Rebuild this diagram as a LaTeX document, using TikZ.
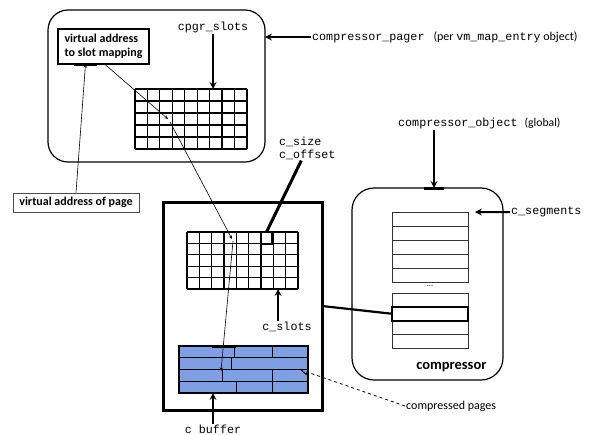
\documentclass[tikz,border=0pt]{standalone}
\usepackage{fontspec}
\setmainfont{Carlito}
\setmonofont{Liberation Mono}
\usetikzlibrary{positioning,arrows}

\definecolor{bufblue}{RGB}{128,158,226}

\begin{document}
\begin{tikzpicture}[x=1pt,y=-1pt,
		every node/.style={font=\fontsize{12}{13}\selectfont},
		box/.style={draw,line width=1.2pt,inner sep=0pt,outer sep=0pt},
		rbox/.style={box,rounded corners=20pt},
		lbl/.style={font=\fontsize{11.7}{13}\selectfont\ttfamily,inner sep=1pt},
		bold/.style={font=\fontsize{12}{14}\selectfont\bfseries},
		row/.style={draw=black!80,line width=1pt,minimum width=76,minimum height=14,inner sep=0pt,outer sep=0pt},
		fat/.style={->,>=stealth,line width=2pt},
		slim/.style={->,>=stealth,line width=0.6pt}]
		\useasboundingbox (0,0) rectangle (592,434);

		% pager side
		\node[rbox,minimum width=217,minimum height=152] (pager) at (156.5,86) {};
		\node[box,line width=2.5pt,bold,minimum width=91,minimum height=35,align=left,inner xsep=5pt,anchor=north west] (map) at (58,29) {virtual address\\to slot mapping};
		\node[lbl] (cpgrlbl) at (213,27) {cpgr\_slots};
		\node[minimum width=112,minimum height=60,inner sep=0pt,outer sep=0pt] (pgrid) at (191,119) {};
		\foreach \i in {0,...,9}
			\draw[line width=1.2pt] ([xshift=\i*12.44]pgrid.north west) -- ([xshift=\i*12.44]pgrid.south west);
		\foreach \j in {0,...,5}
			\draw[line width=1.2pt] ([yshift=-\j*12]pgrid.north west) -- ([yshift=-\j*12]pgrid.north east);
		\node[anchor=west,inner sep=1pt] (pagerlbl) at (311,37) {{\fontsize{11.7}{13}\selectfont\ttfamily compressor\_pager}\hspace{9pt}(per {\fontsize{11.7}{13}\selectfont\ttfamily vm\_map\_entry} object)};
		\node[draw=black!70,line width=0.8pt,bold,minimum width=126,minimum height=19,inner sep=0pt] (vaop) at (76,202.5) {virtual address of page};

		% segment
		\node[box,line width=3pt,minimum width=159,minimum height=208] (seg) at (242.5,306) {};
		\node[minimum width=111,minimum height=57,inner sep=0pt,outer sep=0pt] (sgrid) at (242.5,260.5) {};
		\foreach \i in {0,...,9}
			\draw[line width=1.2pt] ([xshift=\i*12.33]sgrid.north west) -- ([xshift=\i*12.33]sgrid.south west);
		\foreach \j in {0,...,5}
			\draw[line width=1.2pt] ([yshift=-\j*11.4]sgrid.north west) -- ([yshift=-\j*11.4]sgrid.north east);
		\node[box,line width=2pt,minimum width=11,minimum height=12] (cell) at (266.5,238) {};
		\node[lbl,anchor=west,align=left] (csize) at (278,148) {c\_size\\c\_offset};
		\node[lbl] (cslotslbl) at (287,327) {c\_slots};
		\node[box,fill=bufblue,line width=2pt,minimum width=129,minimum height=47] (buf) at (243.5,369.5) {};
		\foreach \j in {1,2,3}
			\draw[line width=1pt] ([yshift=-\j*11.75]buf.north west) -- ([yshift=-\j*11.75]buf.north east);
		\foreach \r/\d in {0/55,1/52,2/43,3/57}
			\draw[line width=1pt] ([shift={(\d pt,-\r*11.75 pt)}]buf.north west) -- ++(0,11.75);
		\foreach \r in {0,2,3}
			\draw[line width=1pt] ([shift={(93pt,-\r*11.75 pt)}]buf.north west) -- ++(0,11.75);
		\node[lbl] (cbuflbl) at (213,429) {c buffer};

		% compressor
		\node[rbox,rounded corners=22pt,minimum width=151,minimum height=192] (comp) at (427.5,284) {};
		\foreach \i in {0,...,4}
			\node[row] (top\i) at (430,219.1+14.2*\i) {};
		\node[font=\fontsize{8}{8}\selectfont] (dots) at (430,286) {...};
		\foreach \i in {0,2,3}
			\node[row] (bot\i) at (430,300+13.75*\i) {};
		\node[row,draw=black,line width=2.2pt] (hlrow) at (430,313.75) {};
		\node[anchor=east,font=\fontsize{14.5}{16}\selectfont\bfseries] (complbl) at (490,367) {compressor};
		\node[lbl,anchor=west] (compobj) at (397,123) {compressor\_object\hspace{7pt}{\rmfamily(global)}};
		\node[lbl,anchor=west] (csegs) at (510,212) {c\_segments};
		\node[anchor=west,inner sep=1pt] (cpages) at (405,406) {compressed pages};

		% connectors
		\coordinate (pcell) at (168,119);
		\coordinate (scell) at (232,239);
		\coordinate (bcell) at (221,371);
		\coordinate (ctick) at (cbuflbl.north |- seg.south);
		\coordinate (btick) at (224,346);
		\coordinate (cobj) at ([xshift=37]compobj.south west);
		\coordinate (ctop) at (cobj |- comp.north);

		\draw[fat] (pagerlbl.west) -- (pagerlbl.west -| pager.east);
		\draw[fat] (cpgrlbl.south) -- (cpgrlbl.south |- pgrid.north);
		\draw[slim] (vaop.north) -- ([xshift=-18]map.south);
		\draw[line width=3pt] ([xshift=-30]map.south) -- ([xshift=-7]map.south);
		\draw[slim] ([xshift=1]map.south) -- (pcell);
		\draw[slim] ([shift={(2pt,-3pt)}]pcell) -- (scell);
		\draw[slim] ([shift={(1pt,-2pt)}]scell) -- (bcell);
		\draw[line width=3pt] ([xshift=-6]csize.south) -- (cell.north);
		\draw[fat] ([xshift=-9]cslotslbl.north) -- ([xshift=-9]cslotslbl.north |- sgrid.south);
		\draw[fat] (cbuflbl.north) -- (cbuflbl.north |- buf.south);
		\draw[line width=3pt] ([xshift=-10]ctick) -- ([xshift=10]ctick);
		\draw[line width=3pt] ([xshift=-12]btick) -- ([xshift=12]btick);
		\draw[line width=2.2pt] (seg.east) -- (hlrow.west);
		\draw[fat] (cobj) -- (ctop);
		\draw[line width=3pt] ([xshift=-10]ctop) -- ([xshift=10]ctop);
		\draw[fat] (csegs.west) -- ([xshift=7]top0.north east);
		\draw[->,>=open triangle 45,dashed,line width=0.8pt] (cpages.west) -- ([xshift=-8]buf.east);
	\end{tikzpicture}
\end{document}
